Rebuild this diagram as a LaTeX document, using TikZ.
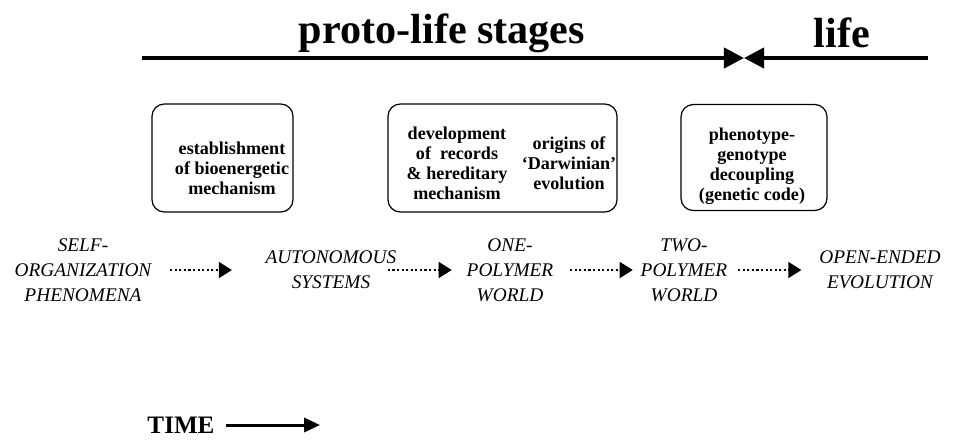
\documentclass[tikz,border=0pt]{standalone}
\usepackage{fontspec}
\setmainfont{Liberation Serif}
\usetikzlibrary{arrows.meta}

\begin{document}
\begin{tikzpicture}[x=0.02cm,y=-0.02cm,
  stagebox/.style={draw,line width=0.7pt,rounded corners=7pt,inner sep=0pt},
  boxtext/.style={align=center,inner sep=0pt,
    font=\fontsize{10.3}{11.4}\selectfont\bfseries},
  stage/.style={align=center,inner sep=0pt,
    font=\fontsize{11}{14.2}\selectfont\itshape},
  flow/.style={line width=1.4pt,dash pattern=on 1.2pt off 1.4pt,
    -{Triangle[length=7.5pt,width=9pt]}},
  bar/.style={line width=2.3pt,-{Triangle[length=11.4pt,width=11.4pt]}}]
\useasboundingbox (0,0) rectangle (960,441);
% top line
\node[font=\fontsize{24}{28}\selectfont\bfseries] (proto) at (442,33) {proto-life stages};
\node[font=\fontsize{24}{28}\selectfont\bfseries] (life) at (842,33) {life};
\coordinate (barleft) at (142,58);
\coordinate (barmeet) at (744,58);
\coordinate (barright) at (928,58);
\draw[bar] (barleft) -- (barmeet);
\draw[bar] (barright) -- (barmeet);
% boxes
\node[stagebox,minimum width=141*0.02cm,minimum height=108*0.02cm] (energy) at (222.5,158) {};
\node[boxtext] (energytext) at (232,168) {establishment\\of bioenergetic\\mechanism};
\node[stagebox,minimum width=229*0.02cm,minimum height=108*0.02cm] (records) at (502.5,158) {};
\node[boxtext] (recordstext) at (457,163) {development\\of~ records\\\& hereditary\\mechanism};
\node[boxtext] (darwintext) at (569,163) {origins of\\`Darwinian'\\evolution};
\node[stagebox,minimum width=146*0.02cm,minimum height=106*0.02cm] (code) at (754,157.5) {};
\node[boxtext] (codetext) at (752,166) {phenotype-\\genotype\\decoupling\\(genetic code)};
% stages
\node[stage] (self) at (83,270) {SELF-\\ORGANIZATION\\PHENOMENA};
\node[stage] (auto) at (331,270) {AUTONOMOUS\\SYSTEMS};
\node[stage] (one) at (510,270) {ONE-\\POLYMER\\WORLD};
\node[stage] (two) at (684,270) {TWO-\\POLYMER\\WORLD};
\node[stage] (open) at (880,270) {OPEN-ENDED\\EVOLUTION};
\draw[flow,shorten <=10.5pt,shorten >=19pt] (self.east) -- (auto.west);
\draw[flow,shorten <=-5pt,shorten >=8.3pt] (auto.east) -- (one.west);
\draw[flow,shorten <=9.4pt,shorten >=4.3pt] (one.east) -- (two.west);
\draw[flow,shorten <=6pt,shorten >=10pt] (two.east) -- (open.west);
% time
\node[font=\fontsize{14.3}{16}\selectfont\bfseries] (time) at (181,425) {TIME};
\coordinate (timeend) at (320,425);
\draw[line width=1.7pt,-{Triangle[length=9pt,width=8pt]},shorten <=3pt] (time.east) -- (timeend);
\end{tikzpicture}
\end{document}
